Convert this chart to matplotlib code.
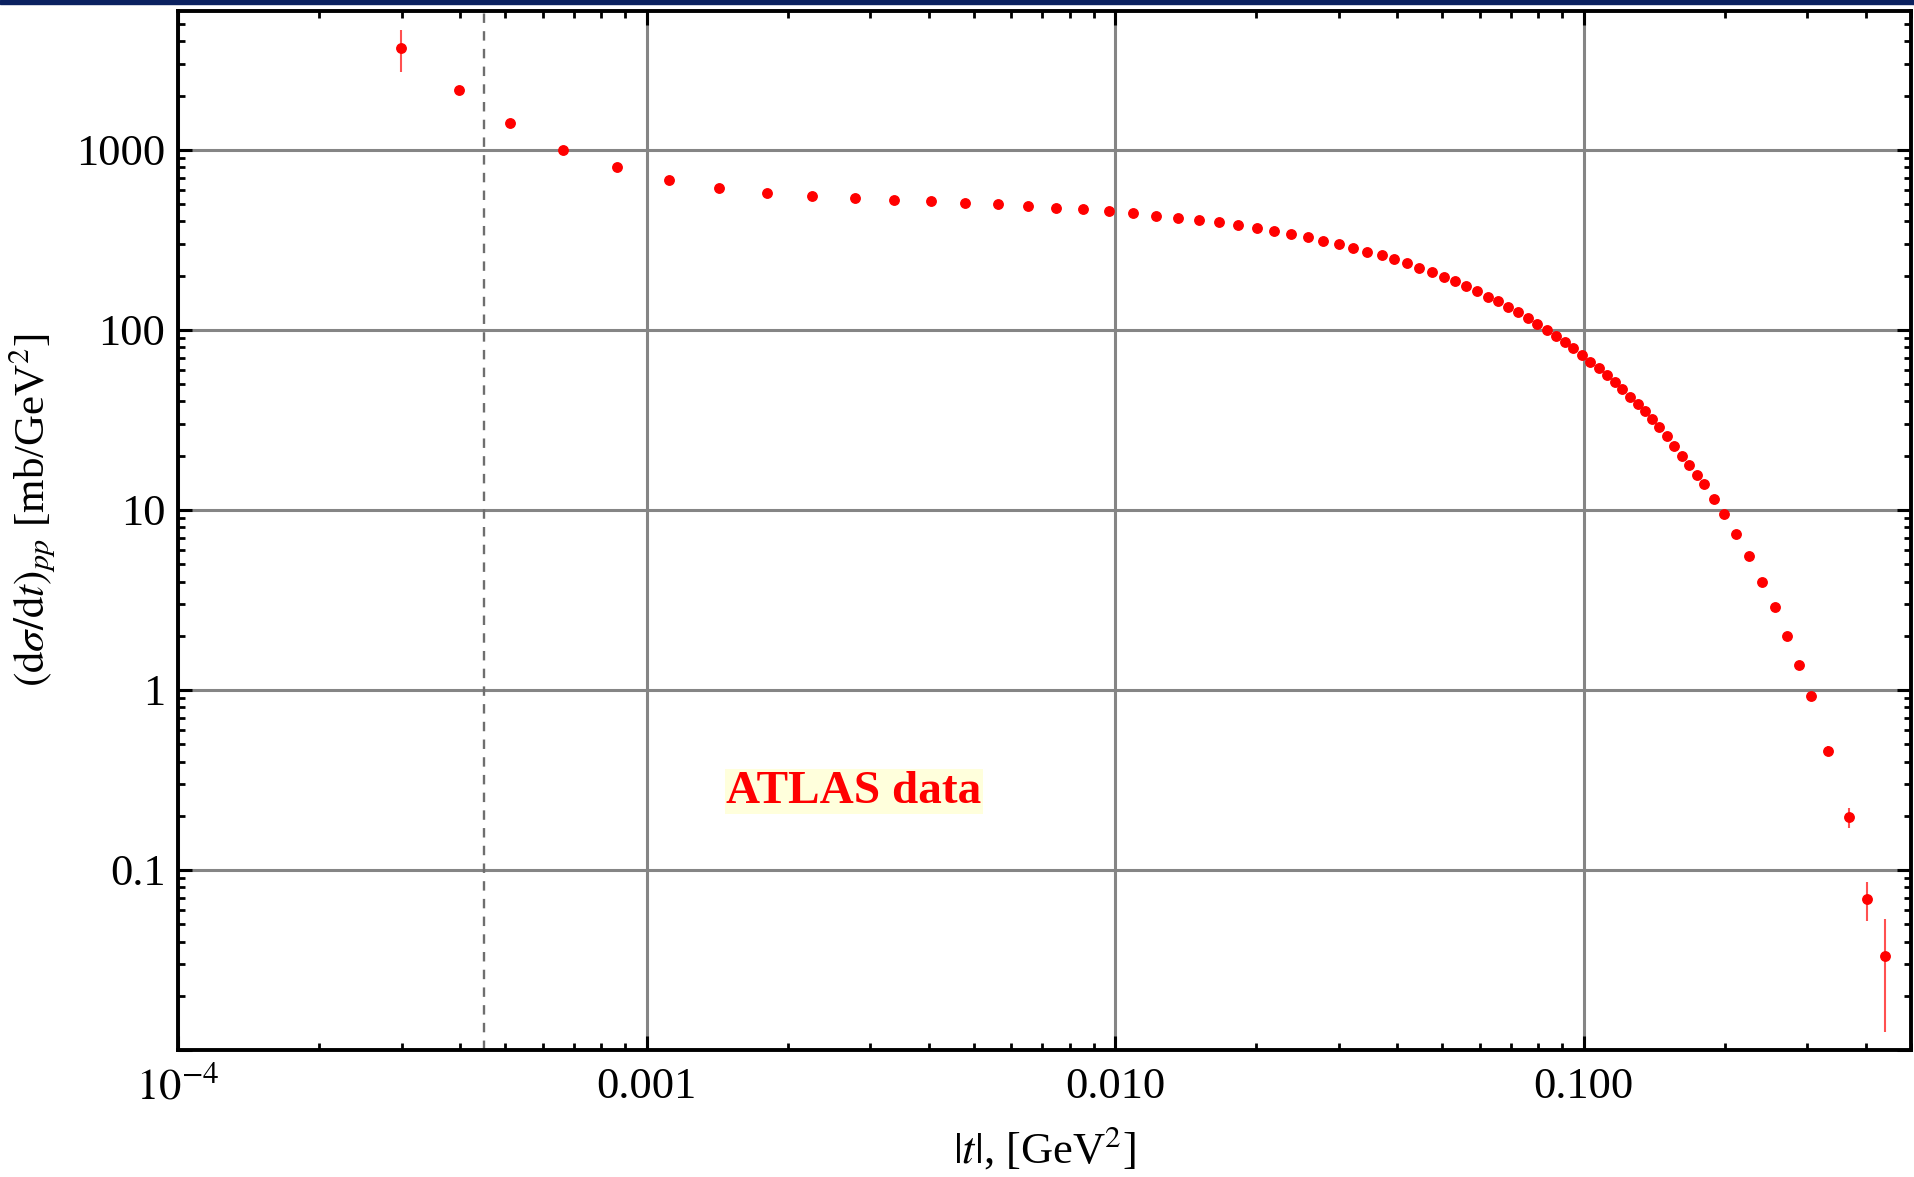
import numpy as np
import matplotlib
matplotlib.use("Agg")
import matplotlib.pyplot as plt
from matplotlib.patches import Rectangle
from matplotlib.ticker import FixedLocator, FixedFormatter, LogLocator, NullFormatter

plt.rcParams['font.family'] = ['Liberation Serif', 'DejaVu Serif']
plt.rcParams['mathtext.fontset'] = 'stix'

# |t| in GeV^2, dsigma/dt in mb/GeV^2
t_vals = [0.000299, 0.000397, 0.000512, 0.000665, 0.000865, 0.001116, 0.001426, 0.00181, 0.00226, 0.00278,
          0.00338, 0.00405, 0.00479, 0.00562, 0.00652, 0.00750, 0.00855, 0.00972, 0.01093, 0.01226,
          0.01364, 0.01510, 0.01669, 0.01834, 0.02005, 0.0218, 0.02376, 0.02578, 0.02786, 0.0300,
          0.0322, 0.0345, 0.0371, 0.0394, 0.0419, 0.0446, 0.0474, 0.0503, 0.0533, 0.0561,
          0.0593, 0.0624, 0.0657, 0.0690, 0.0725, 0.0760, 0.0796, 0.0835, 0.0873, 0.0911,
          0.0950, 0.0992, 0.1033, 0.1077, 0.1120, 0.1165, 0.1210, 0.1256, 0.1305, 0.1355,
          0.1403, 0.1450, 0.1505, 0.1562, 0.1621, 0.1683, 0.1747, 0.1808, 0.1900, 0.1995,
          0.2111, 0.2250, 0.2407, 0.2560, 0.2716, 0.2890, 0.3060, 0.3325, 0.3680, 0.4030, 0.4410]

dsdt = [3670, 2145, 1400, 1000, 801, 678, 610, 577, 555, 537,
        523, 519, 506, 497, 489, 476, 466, 455, 443, 430,
        419, 407, 395, 383, 369, 353, 340, 326, 312, 299,
        284, 271, 259, 246, 234, 220, 210, 197, 186, 175,
        164, 153, 144, 134, 125, 116, 107.5, 99.6, 92.6, 85.8,
        79.1, 72.6, 66.4, 61.5, 56.2, 51.2, 46.8, 42.6, 38.7, 35.2,
        32.0, 28.8, 25.6, 22.7, 20.0, 17.7, 15.6, 13.9, 11.5, 9.48,
        7.38, 5.55, 3.97, 2.88, 1.99, 1.375, 0.92, 0.459, 0.197, 0.069, 0.0331]

err = [970, 45, 25, 15, 10, 8, 6, 5, 5, 5,
       5, 5, 5, 5, 5, 5, 5, 5, 5, 5,
       4, 4, 4, 4, 4, 4, 4, 3, 3, 3,
       3, 3, 3, 3, 3, 3, 3, 3, 3, 2,
       2, 2, 2, 2, 2, 2, 1.5, 1.5, 1.5, 1.5,
       1.2, 1.2, 1.2, 1.0, 1.0, 1.0, 0.9, 0.8, 0.8, 0.7,
       0.7, 0.6, 0.6, 0.5, 0.5, 0.4, 0.4, 0.35, 0.3, 0.25,
       0.2, 0.2, 0.15, 0.12, 0.09, 0.07, 0.05, 0.03, 0.025, 0.017, 0.0205]

t_mark = 4.5e-4

x_ticks = [1e-4, 1e-3, 1e-2, 1e-1]
x_labels = [r'$10^{-4}$', '0.001', '0.010', '0.100']
y_ticks = [0.01, 0.1, 1, 10, 100, 1000]
y_labels = ['', '0.1', '1', '10', '100', '1000']

W, H = 1915, 1177
fig = plt.figure(figsize=(W / 100, H / 100), dpi=100)
ax = fig.add_axes([178 / W, 1 - 1050 / H, (1911 - 178) / W, (1050 - 11) / H])

ax.set_xscale('log')
ax.set_yscale('log')
ax.set_xlim(1e-4, 0.5)
ax.set_ylim(0.01, 5900)

ax.grid(True, which='major', color='#858585', lw=2.2, zorder=1)
ax.axvline(t_mark, color='#6e6e6e', ls=(0, (4, 3.5)), lw=1.7, zorder=2)

ax.errorbar(t_vals, dsdt, yerr=err, fmt='o', color='red', ms=6.8,
            ecolor='#ff5050', elinewidth=1.5, capsize=0, zorder=3)

ax.text(2.77e-3, 0.272, 'ATLAS data', ha='center', va='center', color='red',
        fontweight='bold', fontsize=34,
        bbox=dict(facecolor='#ffffdc', edgecolor='none', pad=1))

ax.xaxis.set_major_locator(FixedLocator(x_ticks))
ax.xaxis.set_major_formatter(FixedFormatter(x_labels))
ax.yaxis.set_major_locator(FixedLocator(y_ticks))
ax.yaxis.set_major_formatter(FixedFormatter(y_labels))
for axis in (ax.xaxis, ax.yaxis):
    axis.set_minor_locator(LogLocator(base=10, subs=np.arange(2, 10), numticks=30))
    axis.set_minor_formatter(NullFormatter())

ax.tick_params(which='both', direction='in', top=True, right=True, color='black', labelsize=32)
ax.tick_params(which='major', length=10, width=2.2)
ax.tick_params(which='minor', length=5, width=2.0)
ax.tick_params(axis='x', which='major', pad=12)
ax.tick_params(axis='y', which='major', pad=9)

for s in ax.spines.values():
    s.set_linewidth(2.8)
    s.set_color('black')

ax.set_xlabel(r'$|t|$, [GeV$^2$]', fontsize=32, va='center')
ax.xaxis.set_label_coords(0.5, -0.094)
ax.set_ylabel(r'$(\mathrm{d}\sigma/\mathrm{d}t)_{pp}$ [mb/GeV$^2$]', fontsize=31, va='center')
ax.yaxis.set_label_coords(-0.084, 0.52)

fig.add_artist(Rectangle((0, 1 - 4 / H), 1, 4 / H, transform=fig.transFigure,
                         color='#0b2160', zorder=10))

fig.savefig('out.png', dpi=100)
